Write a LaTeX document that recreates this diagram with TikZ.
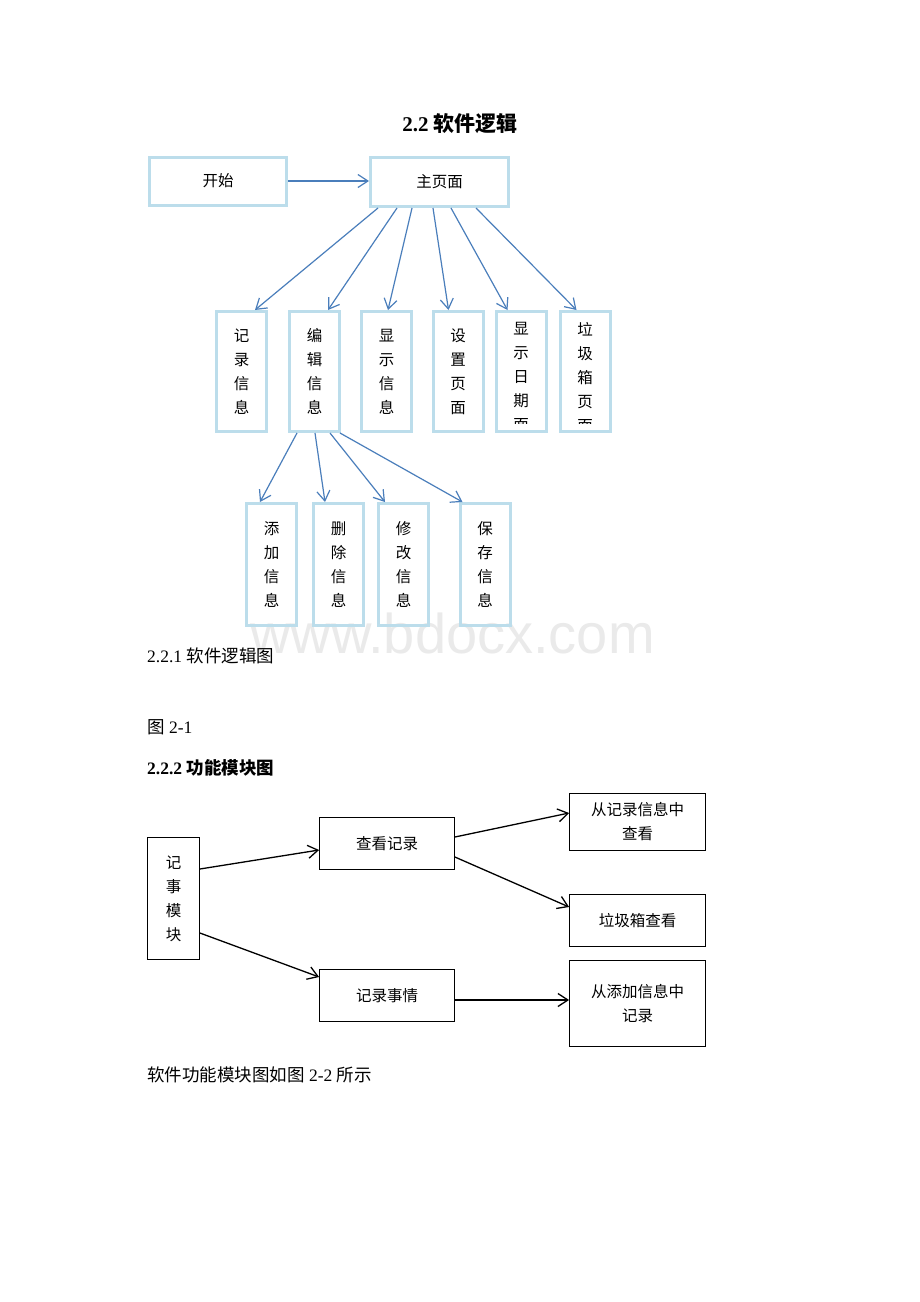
\documentclass[tikz,border=0pt]{standalone}
\usepackage{fontspec}
\setmainfont{Liberation Serif}
\newfontfamily\cjk{Noto Sans CJK SC}
\newfontfamily\marksans{Liberation Sans}
\usetikzlibrary{arrows.meta}
\definecolor{boxblue}{RGB}{188,221,235}
\definecolor{lineblue}{RGB}{74,126,187}
\definecolor{markgray}{RGB}{234,234,234}
\newcommand{\boxfont}{\cjk\fontsize{15.5}{24}\selectfont}
\newcommand{\bodyfont}{\fontsize{17.5}{21}\selectfont}

\begin{document}
\begin{tikzpicture}[x=1pt, y=-1pt, >={Straight Barb[length=10pt,width=13pt]},
    bluebox/.style={draw=boxblue, line width=3pt, inner sep=0pt, align=center, font=\boxfont},
    tallbox/.style={bluebox, minimum width=50pt, minimum height=120pt},
    lowbox/.style={bluebox, minimum width=50pt, minimum height=122pt},
    blackbox/.style={draw, line width=1.3pt, inner sep=0pt, align=center, font=\boxfont},
    bluearrow/.style={->, draw=lineblue, line width=1.2pt},
    blackarrow/.style={->, line width=1.3pt},
    para/.style={anchor=west, inner sep=0pt, font=\bodyfont}]

      \useasboundingbox[fill=white] (0, 0) rectangle (920, 1302);

      \node[anchor=base west, inner sep=0pt, text=markgray, font=\marksans\fontsize{56}{56}\selectfont] (mark) at (250, 653) {www.bdocx.com};

      \node[font=\fontsize{21}{24}\selectfont\bfseries] (title) at (460, 124) {2.2 {\cjk 软件逻辑}};

      \node[bluebox, minimum width=137pt, minimum height=48pt] (start) at (218, 181) {开始};
      \node[bluebox, minimum width=138pt, minimum height=49pt] (main) at (439.5, 182) {主页面};

      \node[tallbox] (rec) at (241.5, 371.5) {记\\录\\信\\息};
      \node[tallbox] (edit) at (314.5, 371.5) {编\\辑\\信\\息};
      \node[tallbox] (show) at (386.5, 371.5) {显\\示\\信\\息};
      \node[tallbox] (set) at (458, 371.5) {设\\置\\页\\面};
      \node[tallbox] (date) at (521, 371.5) {};
      \node[tallbox] (bin) at (585, 371.5) {};
      \begin{scope}
        \clip (date.north west) rectangle ([yshift=10]bin.south east);
        \node[anchor=north, inner sep=0pt, align=center, font=\boxfont] (datetext) at ([yshift=-12]date.north) {显\\示\\日\\期\\面};
        \node[anchor=north, inner sep=0pt, align=center, font=\boxfont] (bintext) at ([yshift=-12]bin.north) {垃\\圾\\箱\\页\\面};
      \end{scope}

      \node[lowbox] (add) at (271.5, 564.5) {添\\加\\信\\息};
      \node[lowbox] (del) at (338.5, 564.5) {删\\除\\信\\息};
      \node[lowbox] (mod) at (403.5, 564.5) {修\\改\\信\\息};
      \node[lowbox] (save) at (485, 564.5) {保\\存\\信\\息};

      \draw[bluearrow] (start.east) -- (start.east -| main.west);
      \draw[bluearrow] ([xshift=9]main.south west) -- ([xshift=40]rec.north west);
      \draw[bluearrow] ([xshift=28]main.south west) -- ([xshift=40]edit.north west);
      \draw[bluearrow] ([xshift=43]main.south west) -- ([xshift=28]show.north west);
      \draw[bluearrow] ([xshift=64]main.south west) -- ([xshift=17]set.north west);
      \draw[bluearrow] ([xshift=82]main.south west) -- ([xshift=13]date.north west);
      \draw[bluearrow] ([xshift=107]main.south west) -- ([xshift=18]bin.north west);

      \draw[bluearrow] ([xshift=9]edit.south west) -- ([xshift=15]add.north west);
      \draw[bluearrow] ([xshift=27]edit.south west) -- ([xshift=13]del.north west);
      \draw[bluearrow] ([xshift=42]edit.south west) -- ([xshift=8]mod.north west);
      \draw[bluearrow] ([xshift=52]edit.south west) -- ([xshift=4]save.north west);

      \node[para] (fig1) at (147, 656) {2.2.1 {\cjk 软件逻辑图}};
      \node[para] (fignum) at (147, 727) {{\cjk 图} 2-1};
      \node[para, font=\bodyfont\bfseries] (sec) at (147, 768) {2.2.2 {\cjk 功能模块图}};
      \node[para] (fig2) at (147, 1075) {{\cjk 软件功能模块图如图} 2-2 {\cjk 所示}};

      \node[blackbox, minimum width=51.5pt, minimum height=121.5pt] (note) at (173.5, 898.5) {记\\事\\模\\块};
      \node[blackbox, minimum width=134.5pt, minimum height=51.5pt] (view) at (387, 843.5) {查看记录};
      \node[blackbox, minimum width=134.5pt, minimum height=51.5pt] (write) at (387, 995.5) {记录事情};
      \node[blackbox, minimum width=135.5pt, minimum height=56.5pt] (fromrec) at (637.5, 822) {从记录信息中\\查看};
      \node[blackbox, minimum width=135.5pt, minimum height=51.5pt] (binview) at (637.5, 920.5) {垃圾箱查看};
      \node[blackbox, minimum width=135.5pt, minimum height=85.5pt] (fromadd) at (637.5, 1003.5) {从添加信息中\\记录};

      \draw[blackarrow] ([yshift=29.5]note.east) -- ([yshift=-6.5]view.west);
      \draw[blackarrow] ([yshift=-34.5]note.east) -- ([yshift=18.5]write.west);
      \draw[blackarrow] ([yshift=6.5]view.east) -- ([yshift=9]fromrec.west);
      \draw[blackarrow] ([yshift=-13.5]view.east) -- ([yshift=13.5]binview.west);
      \draw[blackarrow] ([yshift=-4.5]write.east) -- ([yshift=-4.5]write.east -| fromadd.west);
    \end{tikzpicture}
\end{document}
